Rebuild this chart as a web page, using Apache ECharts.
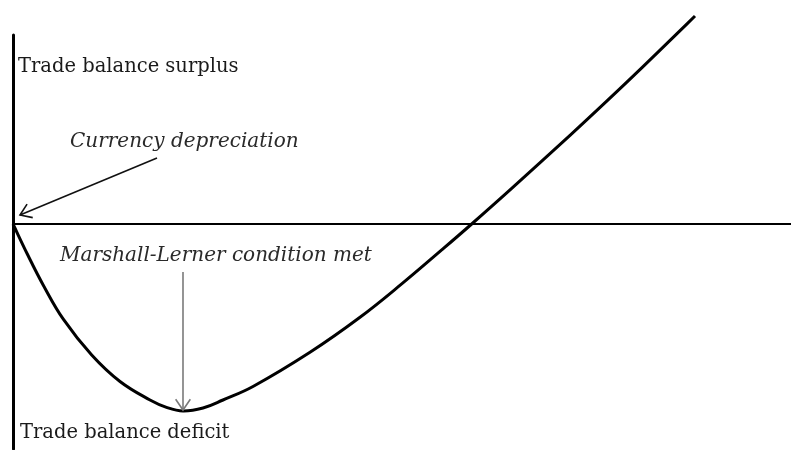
<!DOCTYPE html>
<html>
<head>
<meta charset="utf-8">
<script src="https://cdn.jsdelivr.net/npm/echarts@6/dist/echarts.min.js"></script>
<style>
	html, body { margin: 0; padding: 0; background: #fff; }
	#main { width: 791px; height: 450px; }
</style>
</head>
<body>
<div id="main"></div>
<script>
// J-curve: time after depreciation vs trade balance (arbitrary units)
const curveX = [0, 1.43, 3.03, 5.03, 7.87, 10.7, 13.7, 15.35, 17.0, 19.0, 21.0, 24.0, 29.7, 34.7, 38.9, 42.9, 45.87, 49.87, 55.7, 59.4, 62.9, 66.4, 68.2]
const curveY = [0, -3.0, -6.12, -9.52, -13.1, -15.75, -17.6, -18.34, -18.7, -18.4, -17.6, -16.25, -12.83, -9.33, -5.97, -2.57, 0, 3.56, 8.87, 12.31, 15.64, 19.04, 20.8]

// axis extents
const xRange = [0, 77.8]
const yRange = [-22.5, 18.9]

// annotation arrows: [fromX, fromY, toX, toY]
const arrowDepreciation = [14.4, 6.6, 0.7, 0.9]
const arrowMarshall = [17.0, -4.8, 17.0, -18.6]

const labels = ['Trade balance surplus', 'Currency depreciation', 'Marshall-Lerner condition met', 'Trade balance deficit']

const curve = curveX.map((x, i) => [x, curveY[i]])

const serif = '"DejaVu Serif", "Liberation Serif", serif'

// smooth spline through all curve points (drawn once, on the first item)
const renderCurve = (params, api) => {
	if (params.dataIndex !== 0) return null
	const pts = curve.map((p) => api.coord(p))
	const n = pts.length
	const s = 0.4
	const dist = (a, b) => Math.hypot(b[0] - a[0], b[1] - a[1])
	// control points around each point
	const cps = pts.map((p, i) => {
		const prev = pts[Math.max(i - 1, 0)]
		const next = pts[Math.min(i + 1, n - 1)]
		const vx = next[0] - prev[0]
		const vy = next[1] - prev[1]
		const d0 = dist(prev, p)
		const d1 = dist(p, next)
		const sum = d0 + d1 || 1
		return {
			in: [p[0] - vx * s * d0 / sum, p[1] - vy * s * d0 / sum],
			out: [p[0] + vx * s * d1 / sum, p[1] + vy * s * d1 / sum]
		}
	})
	let d = 'M' + pts[0][0] + ',' + pts[0][1]
	for (let i = 0; i < n - 1; i++) {
		const a = cps[i].out
		const b = cps[i + 1].in
		const c = pts[i + 1]
		d += 'C' + a[0] + ',' + a[1] + ',' + b[0] + ',' + b[1] + ',' + c[0] + ',' + c[1]
	}
	return {
		type: 'path',
		shape: { pathData: d },
		style: { stroke: '#000', lineWidth: 3, fill: null, lineJoin: 'round' }
	}
}

// draw a line with an open V arrow head
const renderArrow = (params, api) => {
	const p1 = api.coord([api.value(0), api.value(1)])
	const p2 = api.coord([api.value(2), api.value(3)])
	const color = api.value(4) ? '#7a7a7a' : '#111'
	const ang = Math.atan2(p2[1] - p1[1], p2[0] - p1[0])
	const len = 13
	const spread = 0.6
	const h1 = [p2[0] - len * Math.cos(ang - spread), p2[1] - len * Math.sin(ang - spread)]
	const h2 = [p2[0] - len * Math.cos(ang + spread), p2[1] - len * Math.sin(ang + spread)]
	const style = { stroke: color, lineWidth: 1.6, fill: null }
	return {
		type: 'group',
		children: [
			{ type: 'line', shape: { x1: p1[0], y1: p1[1], x2: p2[0], y2: p2[1] }, style },
			{ type: 'polyline', shape: { points: [h1, p2, h2] }, style }
		]
	}
}

const textStyle = (text, x, y, italic) => ({
	type: 'text',
	x,
	y,
	style: {
		text,
		fill: italic ? '#2a2a2a' : '#1a1a1a',
		font: (italic ? 'italic 20px ' : '19.5px ') + serif,
		verticalAlign: 'top'
	}
})

const option = {
	animation: false,
	backgroundColor: '#fff',
	grid: { left: 13, right: 0, top: 35, bottom: 1 },
	xAxis: {
		type: 'value',
		min: xRange[0],
		max: xRange[1],
		axisLine: { show: true, onZero: true, lineStyle: { color: '#000', width: 2 } },
		axisTick: { show: false },
		axisLabel: { show: false },
		splitLine: { show: false }
	},
	yAxis: {
		type: 'value',
		min: yRange[0],
		max: yRange[1],
		axisLine: { show: true, onZero: false, lineStyle: { color: '#000', width: 3 } },
		axisTick: { show: false },
		axisLabel: { show: false },
		splitLine: { show: false }
	},
	series: [
		{
			type: 'custom',
			clip: false,
			renderItem: renderCurve,
			data: curve
		},
		{
			type: 'custom',
			clip: false,
			renderItem: renderArrow,
			data: [
				[...arrowDepreciation, 0],
				[...arrowMarshall, 1]
			]
		}
	],
	graphic: [
		textStyle(labels[0], 18, 57, false),
		textStyle(labels[1], 70, 132, true),
		textStyle(labels[2], 60, 246, true),
		textStyle(labels[3], 20, 423, false)
	]
}

const chart = echarts.init(document.getElementById('main'))
chart.setOption(option)
</script>
</body>
</html>
